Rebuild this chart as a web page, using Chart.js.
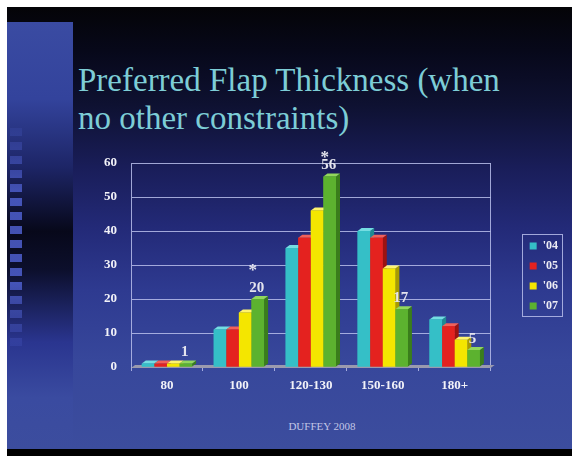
<!DOCTYPE html>
<html>
<head>
<meta charset="utf-8">
<script src="https://cdn.jsdelivr.net/npm/chart.js@4/dist/chart.umd.min.js"></script>
<style>
  html, body { margin: 0; padding: 0; }
  body { width: 572px; height: 456px; background: #ffffff; position: relative; overflow: hidden; }
  .slide {
    position: absolute; left: 7px; top: 7px; width: 565px; height: 442px;
    background: linear-gradient(to bottom,
      #040407 0%, #07081a 10%, #0e1131 22%, #191d58 36%, #232a78 50%,
      #2e3a90 64%, #37479b 80%, #3c4d9e 100%);
  }
  .strip {
    position: absolute; left: 7px; top: 22px; width: 66px; height: 427px;
    background: linear-gradient(to bottom,
      #3a4ba2 0%, #33439c 18%, #1d2566 34%, #07081a 49%, #0c0f2c 58%,
      #2a358f 75%, #3a4ba0 88%, #3c4d9e 100%);
  }
  .squares {
    position: absolute; left: 10px; top: 128px; width: 12px; height: 222px;
    background: repeating-linear-gradient(to bottom,
      rgba(78, 95, 205, 0.85) 0px, rgba(78, 95, 205, 0.85) 8px,
      rgba(0, 0, 0, 0) 8px, rgba(0, 0, 0, 0) 14px);
    -webkit-mask-image: linear-gradient(to bottom, rgba(0,0,0,0.2), #000 30%, #000 70%, rgba(0,0,0,0.2));
    mask-image: linear-gradient(to bottom, rgba(0,0,0,0.2), #000 30%, #000 70%, rgba(0,0,0,0.2));
  }
  .bottomband { position: absolute; left: 7px; top: 449px; width: 565px; height: 7px; background: #000; }
  .title {
    position: absolute; left: 78px; top: 61px; width: 480px;
    font-family: "Liberation Serif", "Times New Roman", serif;
    font-size: 33px; line-height: 38px; color: #7dcdd6; white-space: nowrap;
  }
  .credit {
    position: absolute; left: 222px; top: 420px; width: 200px; text-align: center;
    font-family: "Liberation Serif", "Times New Roman", serif;
    font-size: 11px; color: #c2c6e6;
  }
  #chart { position: absolute; left: 0; top: 0; }
</style>
</head>
<body>
<div class="slide"></div>
<div class="strip"></div>
<div class="squares"></div>
<div class="bottomband"></div>
<div class="title">Preferred Flap Thickness (when<br>no other constraints)</div>
<div class="credit">DUFFEY 2008</div>
<canvas id="chart" width="572" height="456"></canvas>
<script>
// Flap thickness categories and survey counts per year
const categories = ['80', '100', '120-130', '150-160', '180+'];
const yearLabels = ["'04", "'05", "'06", "'07"];
const values04 = [1, 11, 35, 40, 14];
const values05 = [1, 11, 38, 38, 12];
const values06 = [1, 16, 46, 29, 8];
const values07 = [1, 20, 56, 17, 5];
// significance markers shown over the '07 value labels
const markers07 = ['', '*', '*', '', ''];
const yTicks = [0, 10, 20, 30, 40, 50, 60];

const serif = '"Liberation Serif", "Times New Roman", serif';
const frontColors = ['#35bfc7', '#e4221f', '#f4e600', '#5cb22f'];
const sideColors  = ['#1f8a91', '#9c1311', '#a89c00', '#3a7d1b'];
const topColors   = ['#74dde2', '#f2605a', '#fff46e', '#92d75d'];
const gridColor = 'rgba(185, 190, 235, 0.85)';
const DX = 4, DY = 3;

const series = [values04, values05, values06, values07];

// Gray floor under the bars
const floorPlugin = {
  id: 'floor',
  beforeDatasetsDraw(chart) {
    const { ctx, chartArea: a } = chart;
    ctx.save();
    ctx.fillStyle = '#9a9aae';
    ctx.beginPath();
    ctx.moveTo(a.left, a.bottom + 1);
    ctx.lineTo(a.right, a.bottom + 1);
    ctx.lineTo(a.right + DX, a.bottom + 1 - DY);
    ctx.lineTo(a.left + DX, a.bottom + 1 - DY);
    ctx.closePath();
    ctx.fill();
    ctx.restore();
  }
};

// Extruded bars: side and top faces, then the front again so the next bar overlaps
const extrudePlugin = {
  id: 'extrude',
  afterDatasetsDraw(chart) {
    const { ctx } = chart;
    ctx.save();
    chart.data.datasets.forEach((ds, i) => {
      const meta = chart.getDatasetMeta(i);
      meta.data.forEach((bar) => {
        const p = bar.getProps(['x', 'y', 'width', 'base'], true);
        const l = p.x - p.width / 2, r = p.x + p.width / 2;
        ctx.fillStyle = sideColors[i];
        ctx.beginPath();
        ctx.moveTo(r, p.y);
        ctx.lineTo(r + DX, p.y - DY);
        ctx.lineTo(r + DX, p.base - DY);
        ctx.lineTo(r, p.base);
        ctx.closePath();
        ctx.fill();
        ctx.fillStyle = topColors[i];
        ctx.beginPath();
        ctx.moveTo(l, p.y);
        ctx.lineTo(l + DX, p.y - DY);
        ctx.lineTo(r + DX, p.y - DY);
        ctx.lineTo(r, p.y);
        ctx.closePath();
        ctx.fill();
        bar.draw(ctx);
      });
    });
    // value labels over the '07 bars
    const last = chart.data.datasets.length - 1;
    const meta = chart.getDatasetMeta(last);
    ctx.textAlign = 'center';
    ctx.textBaseline = 'middle';
    ctx.fillStyle = '#e4e4ee';
    meta.data.forEach((bar, j) => {
      const v = chart.data.datasets[last].data[j];
      const ly = bar.y - 11;
      ctx.font = 'bold 15px ' + serif;
      ctx.fillText(String(v), bar.x - 1, ly);
      if (markers07[j]) {
        ctx.font = 'bold 17px ' + serif;
        const sy = Math.max(ly - 17, chart.chartArea.top - 5);
        ctx.fillText(markers07[j], bar.x - 5, sy);
      }
    });
    ctx.restore();
  }
};

// Frame around the legend entries
const legendFramePlugin = {
  id: 'legendFrame',
  afterDraw(chart) {
    const lg = chart.legend;
    if (!lg || !lg.legendHitBoxes || !lg.legendHitBoxes.length) return;
    const hb = lg.legendHitBoxes;
    const first = hb[0], lastBox = hb[hb.length - 1];
    const { ctx } = chart;
    ctx.save();
    ctx.strokeStyle = gridColor;
    ctx.lineWidth = 1;
    const left = Math.round(lg.left) + 0.5;
    const top = Math.round(first.top - 6) + 0.5;
    const bottom = Math.round(lastBox.top + lastBox.height + 4) + 0.5;
    ctx.strokeRect(left, top, 40, bottom - top);
    ctx.restore();
  }
};

new Chart(document.getElementById('chart'), {
  type: 'bar',
  data: {
    labels: categories,
    datasets: series.map((vals, i) => ({
      label: yearLabels[i],
      data: vals,
      backgroundColor: frontColors[i],
      borderWidth: 0,
      categoryPercentage: 0.7,
      barPercentage: 1.0
    }))
  },
  options: {
    responsive: false,
    animation: false,
    devicePixelRatio: 1,
    layout: { padding: { top: 155, left: 91, bottom: 59, right: 4 } },
    plugins: {
      title: { display: false },
      tooltip: { enabled: false },
      legend: {
        position: 'right',
        align: 'center',
        labels: {
          boxWidth: 7,
          boxHeight: 7,
          padding: 8,
          color: '#ececf4',
          font: { family: serif, size: 12, weight: 'bold' }
        }
      }
    },
    scales: {
      x: {
        grid: {
          display: true,
          drawOnChartArea: false,
          drawTicks: true,
          tickLength: 4,
          color: gridColor
        },
        border: { display: true, color: '#9a9aae' },
        ticks: {
          color: '#f2f2f8',
          padding: 7,
          font: { family: serif, size: 13, weight: 'bold' }
        },
        afterFit(scale) { scale.height = 30; }
      },
      // empty spacer above the plot
      xTop: {
        type: 'category',
        position: 'top',
        grid: { display: false },
        border: { display: false },
        ticks: { display: false },
        afterFit(scale) { scale.height = 8; }
      },
      y: {
        min: 0,
        max: 60,
        afterBuildTicks(scale) { scale.ticks = yTicks.map(v => ({ value: v })); },
        grid: { color: gridColor, drawTicks: false, lineWidth: 1 },
        border: { display: true, color: gridColor },
        ticks: {
          color: '#f2f2f8',
          padding: 14,
          font: { family: serif, size: 13, weight: 'bold' }
        },
        afterFit(scale) { scale.width = 40; }
      },
      y2: {
        position: 'right',
        min: 0,
        max: 60,
        grid: { drawOnChartArea: false, drawTicks: false },
        border: { display: true, color: gridColor },
        ticks: { display: false },
        afterFit(scale) { scale.width = 31; }
      }
    }
  },
  plugins: [floorPlugin, extrudePlugin, legendFramePlugin]
});
</script>
</body>
</html>
